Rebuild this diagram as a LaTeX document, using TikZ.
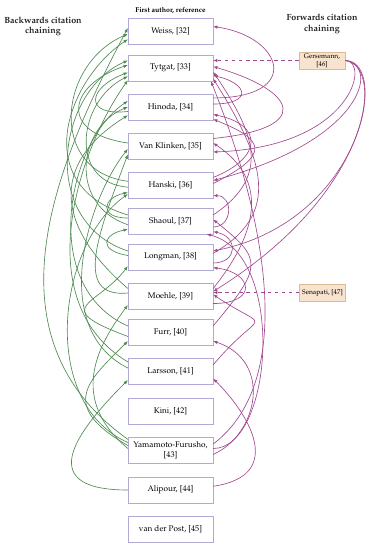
\documentclass[tikz,border=0pt]{standalone}
\usepackage[T1]{fontenc}
\usepackage{mathpazo}
\usepackage{tikz}
\usetikzlibrary{arrows.meta}
\definecolor{bwgreen}{HTML}{4C8A50}
\definecolor{fwpink}{HTML}{A0478E}
\definecolor{boxline}{HTML}{B4A8D8}
\definecolor{citefill}{HTML}{F8E4CE}
\definecolor{citeline}{HTML}{DABB94}
\begin{document}
\begin{tikzpicture}[x=0.3mm, y=-0.3mm, >={Latex[length=1.3mm, width=1mm]},
	every node/.style={font=\fontsize{7}{8.4}\selectfont},
	paper/.style={draw=boxline, fill=white, line width=0.5pt, minimum width=25.4mm, minimum height=7.7mm, align=center, inner sep=1pt},
	citing/.style={draw=citeline, fill=citefill, line width=0.5pt, minimum width=13.8mm, minimum height=5.1mm, align=center, inner sep=1pt, font=\fontsize{5.8}{6.6}\selectfont},
	title/.style={align=center, text=black!85, font=\fontsize{7.6}{9}\selectfont\bfseries},
	bw/.style={->, bwgreen, line width=0.55pt},
	fw/.style={->, fwpink, line width=0.55pt}]
	\useasboundingbox (0,0) rectangle (379,550);
	\node[font=\fontsize{6}{7}\selectfont\bfseries] (head) at (170.5,11) {First author, reference};
	\node[title] (bwtitle) at (43,26.5) {Backwards citation\\chaining};
	\node[title] (fwtitle) at (322,24) {Forwards citation\\chaining};
	\node[paper] (wei) at (170.5,31) {Weiss, [32]};
	\node[paper] (tyt) at (170.5,68) {Tytgat, [33]};
	\node[paper] (hin) at (170.5,107) {Hinoda, [34]};
	\node[paper] (vk) at (170.5,146) {Van Klinken, [35]};
	\node[paper] (han) at (170.5,185) {Hanski, [36]};
	\node[paper] (sha) at (170.5,221) {Shaoul, [37]};
	\node[paper] (lon) at (170.5,257) {Longman, [38]};
	\node[paper] (moe) at (170.5,296) {Moehle, [39]};
	\node[paper] (fur) at (170.5,332) {Furr, [40]};
	\node[paper] (lar) at (170.5,371) {Larsson, [41]};
	\node[paper] (kin) at (170.5,411) {Kini, [42]};
	\node[paper] (yam) at (170.5,450) {Yamamoto-Furusho,\\{}[43]};
	\node[paper] (ali) at (170.5,490) {Alipour, [44]};
	\node[paper] (vdp) at (170.5,529.5) {van der Post, [45]};
	\node[citing] (ger) at (322,60.5) {Gersemann,\\{}[46]};
	\node[citing] (sen) at (322.5,292.5) {Senapati, [47]};

	\draw[bw] (hin.186) .. controls +(-45,5) and +(-40,15) .. (tyt.186);
	\draw[bw] (vk.176) .. controls +(-70,-10) and +(-60,20) .. (tyt.176);
	\draw[bw] (han.175) .. controls +(-80,-10) and +(-70,30) .. (wei.184);
	\draw[bw] (han.183) .. controls +(-60,-5) and +(-50,25) .. (tyt.191);
	\draw[bw] (sha.172) .. controls +(-100,-30) and +(-60,40) .. (wei.191);
	\draw[bw] (sha.185) .. controls +(-60,-20) and +(-50,20) .. (hin.180);
	\draw[bw] (sha.176) .. controls +(-30,0) and +(-25,5) .. (han.190);
	\draw[bw] (lon.172) .. controls +(-90,-30) and +(-70,30) .. (tyt.170);
	\draw[bw] (lon.178) .. controls +(-30,-5) and +(-25,5) .. (sha.191);
	\draw[bw] (moe.170) .. controls +(-70,-60) and +(-80,50) .. (hin.191);
	\draw[bw] (moe.176) .. controls +(-55,5) and +(-30,80) .. (vk.191);
	\draw[bw] (fur.172) .. controls +(-90,-40) and +(-60,40) .. (hin.172);
	\draw[bw] (fur.186) .. controls +(-80,-30) and +(-30,40) .. (lon.192);
	\draw[bw] (lar.168) .. controls +(-100,-60) and +(-50,70) .. (tyt.196);
	\draw[bw] (lar.176) .. controls +(-80,-40) and +(-40,50) .. (vk.184);
	\draw[bw] (yam.166) .. controls +(-140,-100) and +(-80,150) .. (wei.176);
	\draw[bw] (yam.170) .. controls +(-90,-40) and +(-70,50) .. (han.192);
	\draw[bw] (yam.174) .. controls +(-70,-40) and +(-40,40) .. (fur.192);
	\draw[bw] (yam.178) .. controls +(-60,-50) and +(-30,40) .. (moe.192);
	\draw[bw] (ali.180) .. controls +(-100,0) and +(-45,45) .. (lar.192);

	\draw[fw, dashed] (ger.west) -- (ger.west -| tyt.east);
	\draw[fw, dashed] (sen.west) -- (sen.west -| moe.east);
	\draw[fw] (hin.12) .. controls +(90,0) and +(70,10) .. (wei.6);
	\draw[fw] (hin.4) .. controls +(40,0) and +(35,8) .. (tyt.350);
	\draw[fw] (vk.10) .. controls +(100,-10) and +(85,25) .. (tyt.2);
	\draw[fw] (sha.8) .. controls +(60,-40) and +(40,60) .. (tyt.355);
	\draw[fw] (lon.5) .. controls +(70,-40) and +(50,80) .. (tyt.346);
	\draw[fw] (yam.8) .. controls +(80,-60) and +(60,150) .. (tyt.342);
	\draw[fw] (han.10) .. controls +(50,-20) and +(50,10) .. (hin.350);
	\draw[fw] (han.2) .. controls +(60,-30) and +(50,20) .. (hin.344);
	\draw[fw] (sha.352) .. controls +(20,0) and +(20,0) .. (han.346);
	\draw[fw] (lon.352) .. controls +(25,0) and +(25,5) .. (sha.346);
	\draw[fw] (moe.350) .. controls +(45,0) and +(40,5) .. (lon.346);
	\draw[fw] (moe.10) .. controls +(40,-50) and +(60,40) .. (vk.4);
	\draw[fw] (fur.8) .. controls +(50,-60) and +(50,40) .. (sha.2);
	\draw[fw] (lar.8) .. controls +(50,-60) and +(60,40) .. (moe.2);
	\draw[fw] (yam.2) .. controls +(60,0) and +(80,20) .. (sha.340);
	\draw[fw] (yam.354) .. controls +(45,-20) and +(60,20) .. (fur.348);
	\draw[fw] (ali.5) .. controls +(70,-10) and +(40,40) .. (lar.350);
	\draw[fw] (ger.east) .. controls +(25,0) and +(140,-5) .. (vk.352);
	\draw[fw] (ger.east) .. controls +(35,5) and +(150,-40) .. (han.6);
	\draw[fw] (ger.east) .. controls +(45,0) and +(150,-30) .. (lon.8);
	\draw[fw] (ger.east) .. controls +(40,5) and +(160,-100) .. (moe.6);
\end{tikzpicture}
\end{document}
